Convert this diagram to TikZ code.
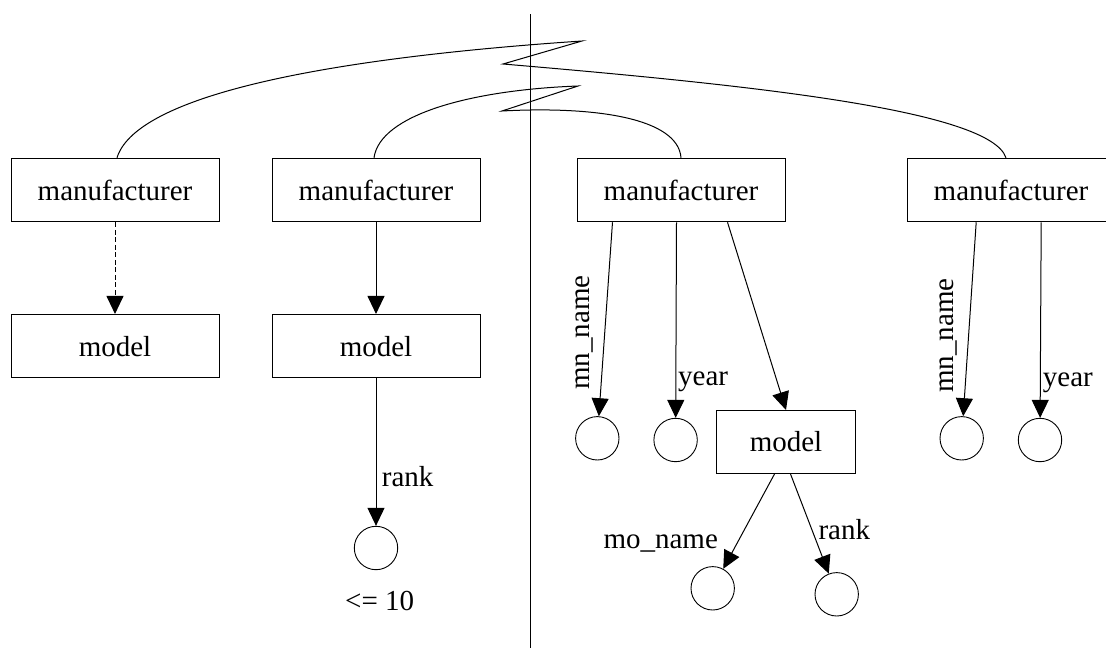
\documentclass[tikz,border=0pt]{standalone}
\usepackage{fontspec}
\setmainfont{Liberation Serif}
\usetikzlibrary{arrows.meta,calc}
\begin{document}
\begin{tikzpicture}[x=1pt,y=-1pt,
  every node/.style={font=\fontsize{29}{34}\selectfont},
  box/.style={draw, line width=1pt, minimum width=208pt, minimum height=63.5pt, inner sep=0pt},
  smallbox/.style={box, minimum width=139pt, minimum height=63pt},
  attr/.style={draw, circle, line width=0.9pt, minimum size=43.4pt, inner sep=0pt},
  link/.style={line width=1pt, -{Triangle[length=18pt,width=17pt]}},
  optional/.style={dash pattern=on 5pt off 2.5pt},
  lbl/.style={inner sep=0pt, anchor=base west},
  tree/.style={line width=1pt}
]
\clip (0,0) rectangle (1106,648);

% separator between the two halves
\coordinate (vtop) at (530,14);
\coordinate (vbot) at (530,648);
\draw[tree] (vtop) -- (vbot);

% element boxes
\node[box] (b1) at (115,190) {manufacturer};
\node[box] (b2) at (376,190) {manufacturer};
\node[box] (b3) at (681,190) {manufacturer};
\node[box] (b4) at (1011,190) {manufacturer};
\node[box] (m1) at (115,346.2) {model};
\node[box] (m2) at (376,346.2) {model};
\node[smallbox] (m3) at (786,442) {model};

% attribute circles
\node[attr] (c1) at (376,548) {};
\node[attr] (c2) at (597.3,438.3) {};
\node[attr] (c3) at (675.6,440) {};
\node[attr] (c4) at (712.7,588.3) {};
\node[attr] (c5) at (836.7,594.3) {};
\node[attr] (c6) at (961.7,438.3) {};
\node[attr] (c7) at (1040,440) {};

% zigzag break points of the pairing arcs
\coordinate (za) at (582,41);
\coordinate (zb) at (503,64);
\coordinate (zc) at (578,86);
\coordinate (zd) at (502,111);

% pairing arcs
\draw[tree] ($(b1.north)+(2,0)$) .. controls (135,100) and (300,60) .. (za)
  -- (zb) .. controls (750,85) and (990,110) .. ($(b4.north)+(-5,0)$);
\draw[tree] ($(b2.north)+(-2,0)$) .. controls (380,115) and (470,90) .. (zc)
  -- (zd) .. controls (595,106) and (678,118) .. (b3.north);

% edges
\draw[link, optional] (b1) -- (m1);
\draw[link] (b2) -- (m2);
\draw[link] (m2) -- (c1);
\draw[link] ($(b3.south west)+(36,0)$) -- (c2);
\draw[link] ($(b3.south west)+(100,0)$) -- (c3);
\draw[link] ($(b3.south west)+(151,0)$) -- (m3.north);
\draw[link] ($(m3.south west)+(58.5,0)$) -- (c4);
\draw[link] ($(m3.south west)+(74.5,0)$) -- (c5);
\draw[link] ($(b4.south west)+(69.7,0)$) -- (c6);
\draw[link] ($(b4.south west)+(134.7,0)$) -- (c7);

% edge labels
\node[lbl] (lrank1) at (381.7,486.7) {rank};
\node[lbl] (lcond) at (345,610) {<= 10};
\node[lbl, rotate=90] (lmn1) at (589.6,390) {mn\_name};
\node[lbl] (lyear1) at (678,385) {year};
\node[lbl, rotate=90] (lmn2) at (953.3,393) {mn\_name};
\node[lbl] (lyear2) at (1042.7,386.5) {year};
\node[lbl] (lmo) at (603.3,548.3) {mo\_name};
\node[lbl] (lrank2) at (818.3,539) {rank};
\end{tikzpicture}
\end{document}
